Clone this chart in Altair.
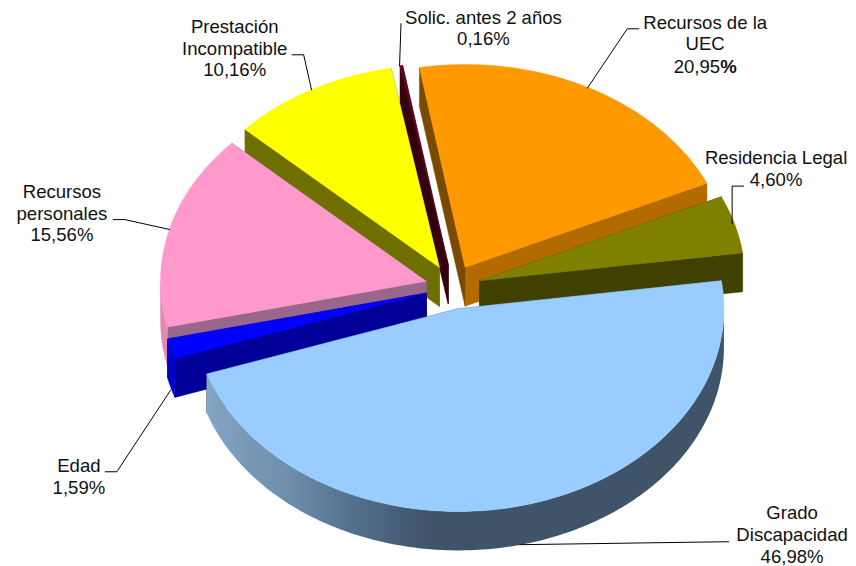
import math
import altair as alt
import pandas as pd

# ---- data ----
categories = ["Recursos de la UEC", "Residencia Legal", "Grado Discapacidad", "Edad",
              "Recursos personales", "Prestación Incompatible", "Solic. antes 2 años"]
shares = [20.95, 4.60, 46.98, 1.59, 15.56, 10.16, 0.16]
top_colors = ["#FF9900", "#808000", "#99CCFF", "#0000FF", "#FF99CC", "#FFFF00", "#660022"]
wall_start_colors = ["#7A4A00", "#404000", "#5F7F9F", "#000099", "#99668C", "#6F6F00", "#33000C"]
wall_end_colors = ["#B36B00", "#404000", "#3F5369", "#000099", "#99668C", "#6F6F00", "#33000C"]
rim_colors = ["#B36B00", "#404000", "#3F5369", "#0000CC", "#E08AB5", "#6F6F00", "#33000C"]
draw_order = [6, 0, 5, 4, 1, 3, 2]
nudge_x = [0, 0, 0, 3, 3, 2, 2]

label_texts = ["Prestación", "Incompatible", "10,16%", "Solic. antes 2 años", "0,16%",
               "Recursos de la", "UEC", "Residencia Legal", "4,60%", "Recursos",
               "personales", "15,56%", "Edad", "1,59%", "Grado", "Discapacidad", "46,98%"]
label_x = [235, 235, 235, 484, 484, 706, 706, 777, 777, 62, 62, 62, 79, 79, 793, 793, 793]
label_y = [27, 49, 70, 18, 39, 23, 44, 158, 180, 192, 214, 235, 466, 488, 513, 535, 557]

leaders = [
    [(312, 90), (304, 54.5), (292, 54.5)],
    [(400, 66), (401.5, 23)],
    [(588, 88), (628, 28.5), (640, 28.5)],
    [(733, 224), (733, 186), (745, 186)],
    [(170, 229.5), (125, 219.5), (113, 219.5)],
    [(171, 390), (117, 472), (105, 472)],
    [(520, 545), (730, 542)],
]

# ---- 3D pie geometry ----
CX, CY = 452, 287
RX, RY = 266, 203
EXPLODE = 0.11
DEPTH = 39
START = -9.9

X = alt.Scale(domain=[8, 848], range=[0, 840], nice=False, zero=False)
Y = alt.Scale(domain=[8, 558], range=[0, 550], nice=False, zero=False)


def polygon(points, fill):
    df = pd.DataFrame({"x": [p[0] for p in points], "y": [p[1] for p in points],
                       "o": list(range(len(points)))})
    stroke = fill if isinstance(fill, str) else "transparent"
    return alt.Chart(df).mark_line(interpolate="linear-closed", fill=fill, stroke=stroke,
                                   strokeWidth=0.5).encode(
        x=alt.X("x:Q", scale=X, axis=None),
        y=alt.Y("y:Q", scale=Y, axis=None),
        order=alt.Order("o:Q"),
    )


def pt(tx, ty, deg, dz=0):
    a = math.radians(deg)
    return (tx + RX * math.sin(a), ty - RY * math.cos(a) + dz)


layers = []
starts = []
acc = START
for s in shares:
    starts.append(acc)
    acc += s * 3.6

side_gradient = alt.LinearGradient(
    gradient="linear", x1=0, x2=1, y1=0, y2=0,
    stops=[alt.GradientStop(color="#82A5C3", offset=0),
           alt.GradientStop(color="#6F90AD", offset=0.15),
           alt.GradientStop(color="#516F8C", offset=0.29),
           alt.GradientStop(color="#3F5369", offset=0.43),
           alt.GradientStop(color="#3F5369", offset=1)])

for i in draw_order:
    a0 = starts[i]
    a1 = a0 + shares[i] * 3.6
    mid = math.radians((a0 + a1) / 2)
    tx = CX + nudge_x[i] + EXPLODE * RX * math.sin(mid)
    ty = CY - EXPLODE * RY * math.cos(mid)
    n = max(2, int(abs(a1 - a0)) + 1)
    arc = [a0 + (a1 - a0) * k / n for k in range(n + 1)]
    # walls
    layers.append(polygon([(tx, ty), pt(tx, ty, a1), pt(tx, ty, a1, DEPTH), (tx, ty + DEPTH)],
                          wall_end_colors[i]))
    layers.append(polygon([(tx, ty), pt(tx, ty, a0), pt(tx, ty, a0, DEPTH), (tx, ty + DEPTH)],
                          wall_start_colors[i]))
    # rim: only the part of the outer edge that faces the viewer
    front = [a for a in arc if 90 <= a <= 270]
    if len(front) > 1:
        rim = [pt(tx, ty, a) for a in front] + [pt(tx, ty, a, DEPTH) for a in reversed(front)]
        layers.append(polygon(rim, side_gradient if i == 2 else rim_colors[i]))
    # top
    layers.append(polygon([(tx, ty)] + [pt(tx, ty, a) for a in arc], top_colors[i]))

for j, line in enumerate(leaders):
    df = pd.DataFrame({"x": [p[0] for p in line], "y": [p[1] for p in line], "o": list(range(len(line)))})
    layers.append(alt.Chart(df).mark_line(color="black", strokeWidth=1).encode(
        x=alt.X("x:Q", scale=X, axis=None), y=alt.Y("y:Q", scale=Y, axis=None), order=alt.Order("o:Q")))

FONT = "Liberation Sans"
SIZE = 18.6
labels = pd.DataFrame({"t": label_texts, "x": label_x, "y": label_y})
layers.append(alt.Chart(labels).mark_text(font=FONT, fontSize=SIZE, color="#111111", align="center",
                                          baseline="middle").encode(
    x=alt.X("x:Q", scale=X, axis=None), y=alt.Y("y:Q", scale=Y, axis=None), text="t:N"))
layers.append(alt.Chart(pd.DataFrame({"t": ["20,95"], "x": [721], "y": [67]})).mark_text(
    font=FONT, fontSize=SIZE, color="#111111", align="right", baseline="middle").encode(
    x=alt.X("x:Q", scale=X, axis=None), y=alt.Y("y:Q", scale=Y, axis=None), text="t:N"))
layers.append(alt.Chart(pd.DataFrame({"t": ["%"], "x": [721], "y": [67]})).mark_text(
    font=FONT, fontSize=SIZE, fontWeight="bold", color="#111111", align="left", baseline="middle").encode(
    x=alt.X("x:Q", scale=X, axis=None), y=alt.Y("y:Q", scale=Y, axis=None), text="t:N"))

chart = alt.layer(*layers).properties(width=840, height=550, padding=0, background="white").configure_view(
    stroke=None)
chart.save("out.html", embed_options={"renderer": "svg", "actions": False})
